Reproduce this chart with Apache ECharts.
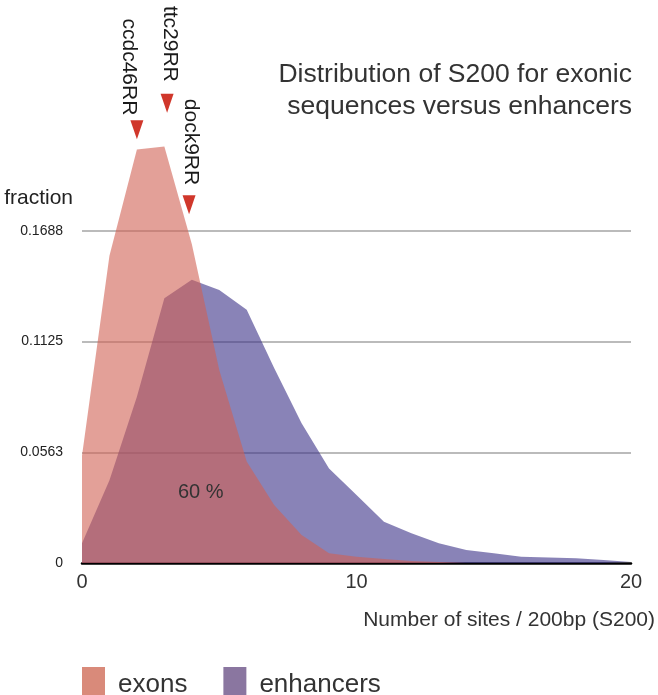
<!DOCTYPE html>
<html>
<head>
<meta charset="utf-8">
<script src="https://cdn.jsdelivr.net/npm/echarts@6/dist/echarts.min.js"></script>
<style>
html,body{margin:0;padding:0;background:#fff;}
#chart{width:658px;height:695px;}
</style>
</head>
<body>
<div id="chart"></div>
<script>
// ---- data ----
var xs = [0,1,2,3,4,5,6,7,8,9,10,11,12,13,14,15,16,17,18,19,20];
var exons = [0.0545,0.156,0.210,0.2115,0.162,0.098,0.0515,0.0295,0.0142,0.005,0.0032,0.002,0.001,0.0005,0,0,0,0,0,0,0];
var enhancers = [0.010,0.042,0.0845,0.1345,0.1438,0.1387,0.1286,0.099,0.071,0.048,0.0346,0.021,0.0151,0.010,0.0066,0.0049,0.0032,0.0028,0.0024,0.0015,0.0005];
var yTickLabels = ['0','0.0563','0.1125','0.1688',''];
var geneNames = ['ccdc46RR','ttc29RR','dock9RR'];
var geneX = [2,3.1,3.9];
var geneY = [0.220,0.2335,0.182];
var seriesNames = ['exons','enhancers'];
var titleLines = ['Distribution of S200 for exonic','sequences versus enhancers'];

var FONT = '"Liberation Sans", Arial, Helvetica, sans-serif';
var yInterval = 0.05625;

function pairs(vals){ return xs.map(function(x,i){ return [x, vals[i]]; }); }

// label offsets are in the rotated label frame
var labelOffsets = [[0,8],[-7,-3],[-5,-2]];
var geneData = geneNames.map(function(n,i){
  return {value:[geneX[i], geneY[i]], name:n,
    label:{offset:labelOffsets[i]}};
});

var titleStyle = {fontSize:26.5, fontWeight:'normal', color:'#333', fontFamily:FONT};

var chart = echarts.init(document.getElementById('chart'));
chart.setOption({
  animation:false,
  backgroundColor:'#fff',
  textStyle:{fontFamily:FONT},
  title:[
    {text:titleLines[0], right:26, top:61, padding:0, textStyle:titleStyle},
    {text:titleLines[1], right:26, top:93, padding:0, textStyle:titleStyle}
  ],
  legend:{
    left:77, top:662, itemWidth:23, itemHeight:36, itemGap:36,
    icon:'rect',
    textStyle:{fontSize:26, color:'#333', fontFamily:FONT, padding:[0,0,0,8]},
    data:[
      {name:seriesNames[0], itemStyle:{color:'#d98a7a'}},
      {name:seriesNames[1], itemStyle:{color:'#8a76a0'}}
    ]
  },
  grid:{left:82, right:27, top:120, bottom:132},
  xAxis:{
    type:'value', min:0, max:20, interval:10,
    name:'Number of sites / 200bp (S200)',
    nameLocation:'end', nameGap:24,
    nameTextStyle:{fontSize:21, color:'#333', align:'right', verticalAlign:'top', padding:[47,0,0,0], fontFamily:FONT},
    axisLine:{show:true, onZero:false, lineStyle:{color:'#000', width:2.5}},
    axisTick:{show:false},
    splitLine:{show:false},
    axisLabel:{fontSize:20, color:'#333', margin:9, fontFamily:FONT}
  },
  yAxis:{
    type:'value', min:0, max:0.225, interval:yInterval,
    name:'fraction', nameLocation:'end', nameGap:-78,
    nameTextStyle:{fontSize:21, color:'#222', align:'right', verticalAlign:'middle', padding:[0,9,0,0], fontFamily:FONT},
    axisLine:{show:false}, axisTick:{show:false},
    axisLabel:{fontSize:14, color:'#222', margin:19, fontFamily:FONT,
      formatter:function(v){ var i=Math.round(v/yInterval); return yTickLabels[i]!==undefined?yTickLabels[i]:''; }},
    splitLine:{show:true, lineStyle:{color:['rgba(0,0,0,0)','#bbbbbb','#bbbbbb','#bbbbbb','rgba(0,0,0,0)'], width:2}}
  },
  series:[
    {
      name:seriesNames[1], type:'line', data:pairs(enhancers),
      symbol:'none', lineStyle:{width:0},
      itemStyle:{color:'#8a76a0'},
      areaStyle:{color:'#3a3087', opacity:0.6}, z:2
    },
    {
      name:seriesNames[0], type:'line', data:pairs(exons),
      symbol:'none', lineStyle:{width:0},
      itemStyle:{color:'#d98a7a'},
      areaStyle:{color:'#d06153', opacity:0.6}, z:3
    },
    {
      type:'scatter', data:geneData, clip:false,
      symbol:'triangle', symbolRotate:180, symbolSize:[13,19],
      itemStyle:{color:'#d0372b', opacity:1}, z:5,
      label:{show:true, position:'top', distance:5, rotate:-90,
        align:'right', verticalAlign:'middle',
        formatter:function(p){return p.name;},
        fontSize:21, color:'#1a1a1a', fontFamily:FONT}
    }
  ],
  graphic:[
    {type:'text', left:178, top:482, z:10,
     style:{text:'60 %', fontSize:20, fill:'#333', font:'20px '+FONT}}
  ]
});
</script>
</body>
</html>
